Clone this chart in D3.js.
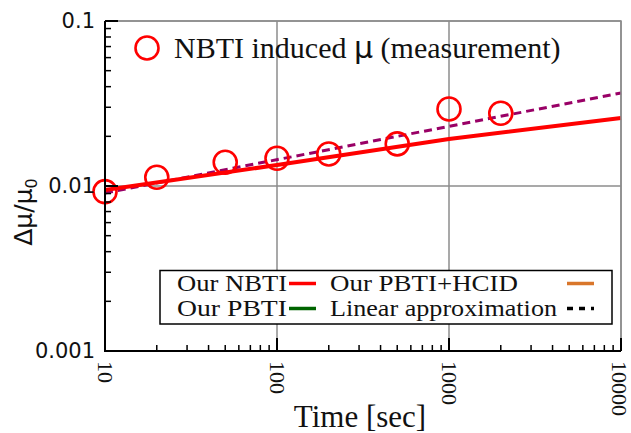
<!DOCTYPE html>
<html>
<head>
<meta charset="utf-8">
<script src="https://cdn.jsdelivr.net/npm/d3@7"></script>
<style>
  body { margin: 0; background: #fff; }
  svg { display: block; }
</style>
</head>
<body>
<div id="plot"></div>
<script>
// measured NBTI induced mobility shift
const measTime = [10, 20, 50, 100, 200, 500, 1000, 2000];
const measMu = [0.00924, 0.01129, 0.01393, 0.01472, 0.01563, 0.0180, 0.0293, 0.0276];

// model curve (Our NBTI)
const nbtiTime = [10, 100, 1000, 10000];
const nbtiMu = [0.00946, 0.0134, 0.01927, 0.02583];

// linear approximation
const linTime = [10, 10000];
const linMu = [0.00907, 0.0366];

const xTicks = [10, 100, 1000, 10000];
const yTicks = [0.001, 0.01, 0.1];
const yTickLabels = ["0.001", "0.01", "0.1"];

const legendLabels = ["Our NBTI", "Our PBTI", "Our PBTI+HCID", "Linear approximation"];
const legendColors = ["#ff0000", "#006400", "#d9762b", "#000000"];

const width = 631;
const height = 433;
const margin = { top: 21, right: 10, bottom: 82, left: 105 };

const svg = d3.select("#plot")
  .append("svg")
  .attr("width", width)
  .attr("height", height);

const x = d3.scaleLog()
  .domain([10, 10000])
  .range([margin.left, width - margin.right]);

const y = d3.scaleLog()
  .domain([0.001, 0.1])
  .range([height - margin.bottom, margin.top]);

const serif = "'Liberation Serif', 'Times New Roman', serif";
const sans = "'DejaVu Sans', sans-serif";

// minor tick values
const xMinor = [];
[10, 100, 1000].forEach(d => { for (let k = 2; k <= 9; k++) xMinor.push(d * k); });
const yMinor = [];
[0.001, 0.01].forEach(d => { for (let k = 2; k <= 9; k++) yMinor.push(d * k); });

// grid
const grid = svg.append("g").attr("stroke", "#8c8c8c").attr("stroke-width", 1.5);
xTicks.slice(1).forEach(t => {
  grid.append("line")
    .attr("x1", x(t)).attr("x2", x(t))
    .attr("y1", y(0.1)).attr("y2", y(0.001));
});
yTicks.slice(1).forEach(t => {
  grid.append("line")
    .attr("x1", x(10)).attr("x2", x(10000))
    .attr("y1", y(t)).attr("y2", y(t));
});

// top legend (measurement)
svg.append("circle")
  .attr("cx", 147).attr("cy", 48).attr("r", 11.5)
  .attr("fill", "none").attr("stroke", "#ff0000").attr("stroke-width", 2.6);
const topText = svg.append("text")
  .attr("x", 174).attr("y", 58)
  .attr("font-family", serif)
  .attr("font-size", 30)
  .attr("fill", "#111");
topText.append("tspan").text("NBTI induced ");
topText.append("tspan").attr("font-family", sans).text("μ");
topText.append("tspan").text(" (measurement)");

// lines
const line = d3.line()
  .x(d => x(d[0]))
  .y(d => y(d[1]));

svg.append("path")
  .datum(linTime.map((t, i) => [t, linMu[i]]))
  .attr("d", line)
  .attr("fill", "none")
  .attr("stroke", "#990066")
  .attr("stroke-width", 3)
  .attr("stroke-dasharray", "8,5");

svg.append("path")
  .datum(nbtiTime.map((t, i) => [t, nbtiMu[i]]))
  .attr("d", line)
  .attr("fill", "none")
  .attr("stroke", "#ff0000")
  .attr("stroke-width", 4);

// measurement circles
svg.append("g")
  .selectAll("circle")
  .data(measTime.map((t, i) => [t, measMu[i]]))
  .enter()
  .append("circle")
  .attr("cx", d => x(d[0]))
  .attr("cy", d => y(d[1]))
  .attr("r", 11.5)
  .attr("fill", "none")
  .attr("stroke", "#ff0000")
  .attr("stroke-width", 2.6);

// border top/right
svg.append("path")
  .attr("d", `M${x(10)},${y(0.1)}H${x(10000)}V${y(0.001)}`)
  .attr("fill", "none")
  .attr("stroke", "#8c8c8c")
  .attr("stroke-width", 1.5);

// axes
const axisG = svg.append("g").attr("stroke", "#000");
axisG.append("line")
  .attr("x1", x(10)).attr("x2", x(10))
  .attr("y1", y(0.1)).attr("y2", y(0.001))
  .attr("stroke-width", 2);
axisG.append("line")
  .attr("x1", x(10) - 1).attr("x2", x(10000))
  .attr("y1", y(0.001)).attr("y2", y(0.001))
  .attr("stroke-width", 2);

axisG.selectAll(".ymaj").data(yTicks).enter().append("line")
  .attr("x1", x(10)).attr("x2", x(10) + 13)
  .attr("y1", d => y(d)).attr("y2", d => y(d))
  .attr("stroke-width", 2);
axisG.selectAll(".ymin").data(yMinor).enter().append("line")
  .attr("x1", x(10)).attr("x2", x(10) + 6)
  .attr("y1", d => y(d)).attr("y2", d => y(d))
  .attr("stroke-width", 1.5);
axisG.selectAll(".xmaj").data(xTicks).enter().append("line")
  .attr("x1", d => x(d)).attr("x2", d => x(d))
  .attr("y1", y(0.001)).attr("y2", y(0.001) - 13)
  .attr("stroke-width", 2);
axisG.selectAll(".xmin").data(xMinor).enter().append("line")
  .attr("x1", d => x(d)).attr("x2", d => x(d))
  .attr("y1", y(0.001)).attr("y2", y(0.001) - 6)
  .attr("stroke-width", 1.5);

// tick labels
svg.selectAll(".ylab").data(yTicks).enter().append("text")
  .attr("x", x(10) - 10)
  .attr("y", d => y(d))
  .attr("dy", "0.35em")
  .attr("text-anchor", "end")
  .attr("font-family", sans)
  .attr("font-size", 21)
  .attr("fill", "#111")
  .text((d, i) => yTickLabels[i]);

svg.selectAll(".xlab").data(xTicks).enter().append("text")
  .attr("transform", d => `translate(${Math.min(x(d), 619)},${y(0.001) + 10}) rotate(90)`)
  .attr("dy", "0.32em")
  .attr("text-anchor", "start")
  .attr("font-family", serif)
  .attr("font-size", 22)
  .attr("fill", "#111")
  .text(d => d);

// axis titles
svg.append("text")
  .attr("x", 360).attr("y", 427)
  .attr("text-anchor", "middle")
  .attr("font-family", serif)
  .attr("font-size", 31)
  .attr("fill", "#111")
  .text("Time [sec]");

const yTitle = svg.append("text")
  .attr("transform", "translate(32,212) rotate(-90)")
  .attr("text-anchor", "middle")
  .attr("font-family", sans)
  .attr("font-size", 25)
  .attr("fill", "#111");
yTitle.append("tspan").text("Δμ/μ");
yTitle.append("tspan").attr("font-size", 16).attr("dy", 5).text("0");

// bottom legend
const lg = svg.append("g");
lg.append("rect")
  .attr("x", 160).attr("y", 270.5)
  .attr("width", 452).attr("height", 53.5)
  .attr("fill", "#fff")
  .attr("stroke", "#000")
  .attr("stroke-width", 1.5);

const legendPos = [
  { tx: 177, ty: 291, lx: 289, w: 110 },
  { tx: 177, ty: 316, lx: 289, w: 110 },
  { tx: 330, ty: 291, lx: 567, w: 188 },
  { tx: 330, ty: 316, lx: 567, w: 227 }
];
legendLabels.forEach((lab, i) => {
  const p = legendPos[i];
  lg.append("text")
    .attr("x", p.tx).attr("y", p.ty)
    .attr("font-family", serif)
    .attr("font-size", 22.5)
    .attr("textLength", p.w)
    .attr("lengthAdjust", "spacingAndGlyphs")
    .attr("fill", "#111")
    .text(lab);
  lg.append("line")
    .attr("x1", p.lx).attr("x2", p.lx + 27)
    .attr("y1", p.ty - 7.5).attr("y2", p.ty - 7.5)
    .attr("stroke", legendColors[i])
    .attr("stroke-width", 3.5)
    .attr("stroke-dasharray", i === 3 ? "6,6" : null);
});
</script>
</body>
</html>
